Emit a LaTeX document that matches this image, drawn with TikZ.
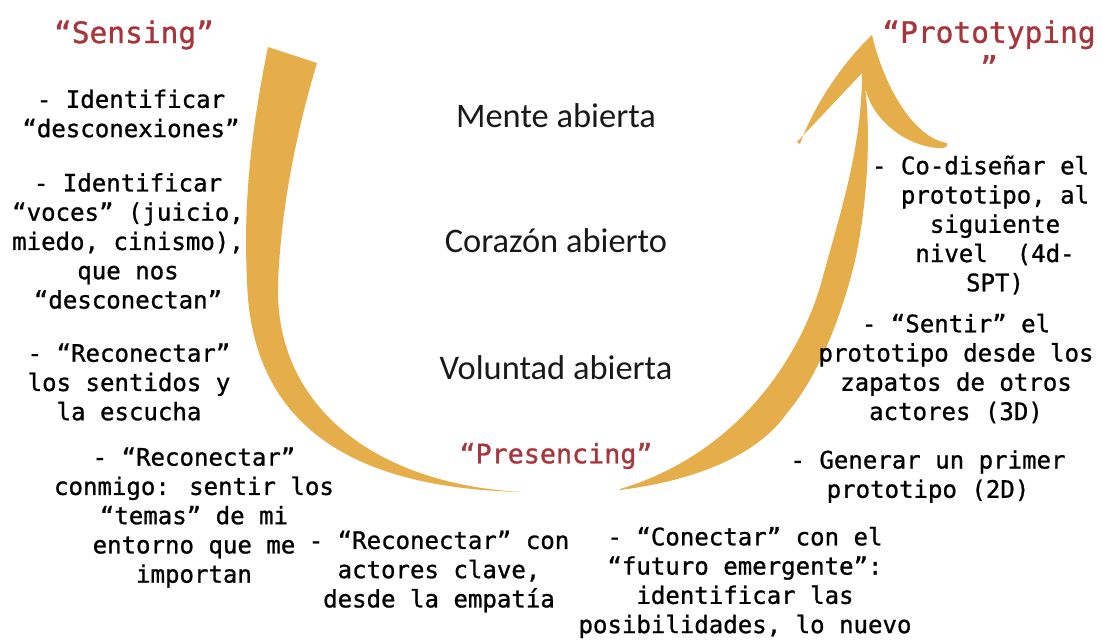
\documentclass[tikz,border=0pt]{standalone}
\usepackage{fontspec}
\setmainfont{Carlito}
\newfontfamily\handfont[FakeBold=1]{DejaVu Sans Mono}
\usetikzlibrary{positioning}
\definecolor{ugold}{HTML}{E5AE4A}
\definecolor{stagered}{HTML}{A5363B}

\begin{document}
\begin{tikzpicture}
        [
            x=0.025cm, y=-0.025cm,
            stage/.style = {text=stagered, font=\handfont\fontsize{21}{24.8}\selectfont, align=center, inner sep=0pt},
            item/.style = {text=black, font=\handfont\fontsize{17.1}{20.8}\selectfont, align=center, inner sep=0pt},
            openness/.style = {text=black!90, font=\fontsize{24.5}{29}\selectfont, inner sep=0pt},
            arm/.style = {fill=ugold, draw=none}
        ]%
        \useasboundingbox (0,0) rectangle (1103,641);
        % the U
        \fill[arm] (268,47) .. controls (252,125) and (243,200) .. (247,280)
            .. controls (250,400) and (320,488) .. (523,492)
            .. controls (380,485) and (275,410) .. (278,285)
            .. controls (281,200) and (300,120) .. (317,63) -- cycle;
        \fill[arm] (620,489) .. controls (750,450) and (806,340) .. (822,280)
            .. controls (838,220) and (862,150) .. (862,73)
            -- (797,142) -- (800,144)
            .. controls (812,110) and (840,65) .. (872,35)
            .. controls (885,90) and (915,138) .. (947,143)
            .. controls (950,147) and (942,149) .. (937,148)
            .. controls (905,145) and (872,120) .. (865,87)
            .. controls (872,140) and (866,225) .. (850,280)
            .. controls (836,330) and (815,380) .. (787,413)
            .. controls (765,445) and (715,478) .. (620,490) -- cycle;
        % stages
        \node[stage] (sensing) at (134,35) {“Sensing”};
        \node[stage] (prototyping) at (989,49) {“Prototyping\\”};
        \node[stage, font=\handfont\fontsize{19}{22}\selectfont] (presencing) at (556,456) {“Presencing”};
        \node[openness] (mente) at (556,116) {Mente abierta};
        \node[openness] (corazon) at (556,241) {Corazón abierto};
        \node[openness] (voluntad) at (556,368) {Voluntad abierta};
        % going down
        \node[item] (desconexiones) at (131,113.5) {- Identificar\\“desconexiones”};
        \node[item] (voces) at (128,241) {- Identificar\\“voces” (juicio,\\miedo, cinismo),\\que nos\\“desconectan”};
        \node[item] (sentidos) at (129,382) {- “Reconectar”\\los sentidos y\\la escucha};
        \node[item] (conmigo) at (194,517.5) {- “Reconectar”\\conmigo: sentir los\\“temas” de mi\\entorno que me\\importan};
        \node[item] (actores) at (439,571.5) {- “Reconectar” con\\actores clave,\\desde la empatía};
        % going up
        \node[item] (futuro) at (745,582.5) {- “Conectar” con el\\“futuro emergente”:\\identificar las\\posibilidades, lo nuevo};
        \node[item] (generar) at (928,476.5) {- Generar un primer\\prototipo (2D)};
        \node[item] (sentir) at (956,368.5) {- “Sentir” el\\prototipo desde los\\zapatos de otros\\actores (3D)};
        \node[item] (codisenar) at (995,225) {-~Co-diseñar el\phantom{xx}\\prototipo, al\\siguiente\\nivel~~(4d-\\SPT)};
\end{tikzpicture}
\end{document}
